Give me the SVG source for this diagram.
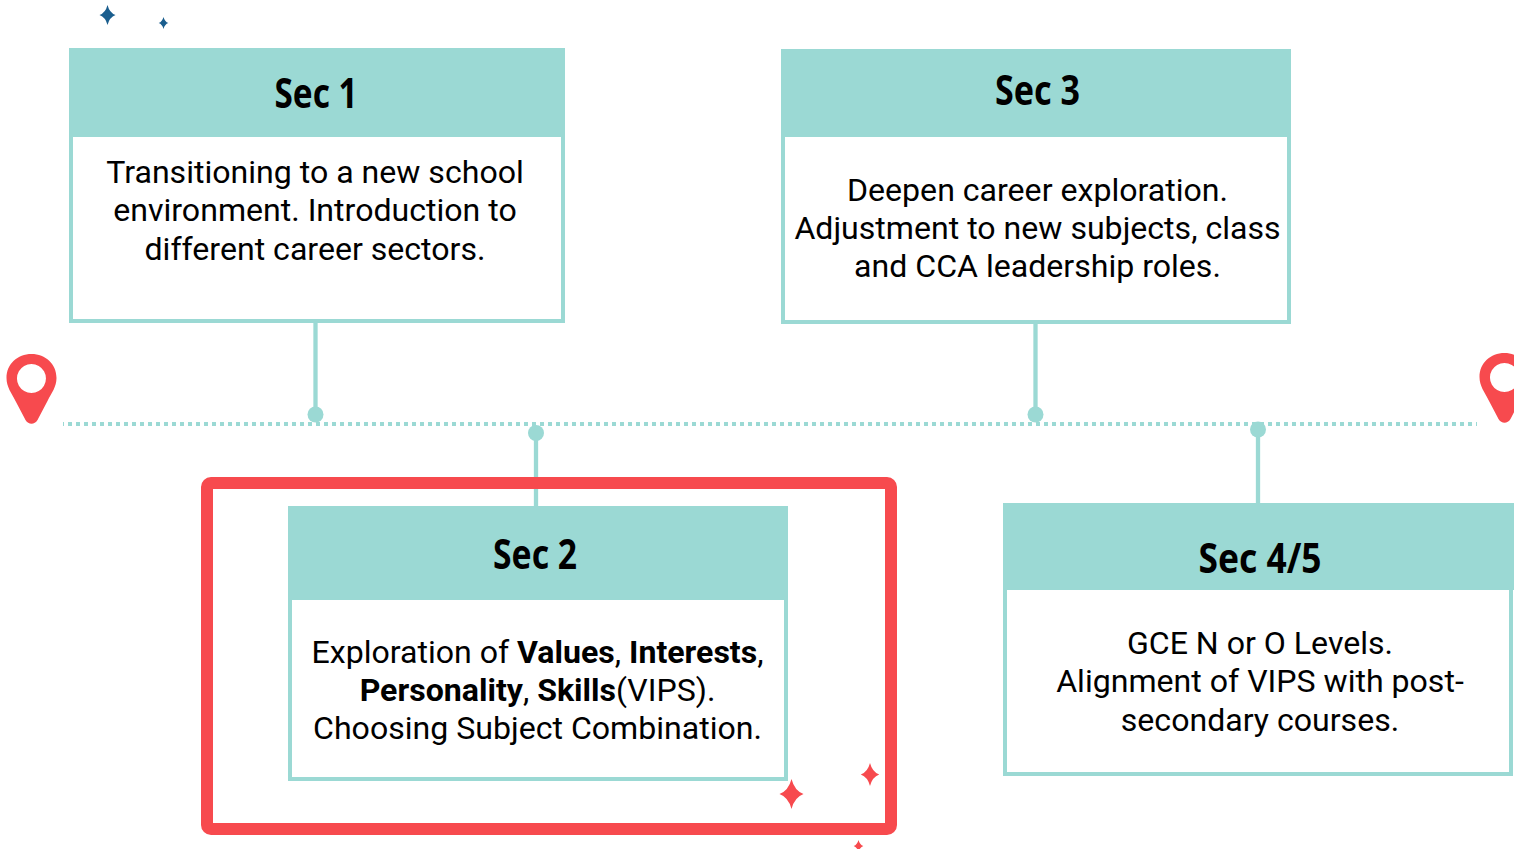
<svg xmlns="http://www.w3.org/2000/svg" width="1514" height="849" viewBox="0 0 1514 849">
<style>
.box{fill:#fff;stroke:#9bd9d4;stroke-width:4}
.head{fill:#9bd9d4}
.conn{stroke:#9bd9d4;stroke-width:4.300;fill:none}
.dot{fill:#9bd9d4}
.h{font-family:"Noto Sans","Open Sans",sans-serif;font-weight:700;font-size:42px;fill:#000;text-anchor:middle}
.t{font-family:Roboto,"Liberation Sans",sans-serif;font-size:32.100px;fill:#000;text-anchor:middle}
.t tspan.b{font-weight:700}
.red{fill:#f74a4e}
.blue{fill:#1b5e8e}
</style>
<defs>
<path id="star" d="M0-1Q.2-.22.8 0Q.2.22 0 1Q-.2.22-.8 0Q-.2-.22 0-1Z"/>
<path id="pin" d="M25 0C11 0 0 10 0 24C0 33 5 39 9 47L19 66C22 71 28 71 31 66L41 47C45 39 50 33 50 24C50 10 39 0 25 0ZM25 10A14.500 14.500 0 1 1 24.900 10Z" fill-rule="evenodd"/>
</defs>
<g id="connectors">
<line x1="63" y1="424" x2="1477" y2="424" stroke="#9bd9d4" stroke-width="4" stroke-dasharray="4 4" stroke-dashoffset="3"/>
<line class="conn" x1="315.500" y1="322" x2="315.500" y2="414"/>
<circle class="dot" cx="315.500" cy="414.500" r="8"/>
<line class="conn" x1="1035.500" y1="322" x2="1035.500" y2="414"/>
<circle class="dot" cx="1035.500" cy="414.500" r="8"/>
<line class="conn" x1="536" y1="432" x2="536" y2="510"/>
<circle class="dot" cx="536" cy="433" r="8"/>
<line class="conn" x1="1258" y1="429" x2="1258" y2="506"/>
<circle class="dot" cx="1258" cy="429.500" r="8"/>
</g>
<g id="pin-left"><use href="#pin" class="red" x="6.500" y="354"/></g>
<g id="pin-right"><use href="#pin" class="red" x="1479.500" y="353"/></g>
<g id="highlight"><rect x="207" y="483" width="684" height="346" rx="4" fill="none" stroke="#f74a4e" stroke-width="12"/></g>
<g id="sec1">
<rect class="box" x="71" y="50" width="492" height="271"/>
<rect class="head" x="69" y="49" width="496" height="88"/>
<text class="h" x="316" y="108" textLength="83" lengthAdjust="spacingAndGlyphs">Sec 1</text>
<text class="t" x="315" y="183">Transitioning to a new school</text>
<text class="t" x="315" y="221">environment. Introduction to</text>
<text class="t" x="315" y="260">different career sectors.</text>
</g>
<g id="sec3">
<rect class="box" x="783" y="51" width="506" height="271"/>
<rect class="head" x="781" y="50" width="510" height="87"/>
<text class="h" x="1037.500" y="105" textLength="85" lengthAdjust="spacingAndGlyphs">Sec 3</text>
<text class="t" x="1037.500" y="201">Deepen career exploration.</text>
<text class="t" x="1037.500" y="239">Adjustment to new subjects, class</text>
<text class="t" x="1037.500" y="277">and CCA leadership roles.</text>
</g>
<g id="sec2">
<rect class="box" x="290" y="508" width="496" height="271"/>
<rect class="head" x="288" y="507" width="500" height="93"/>
<text class="h" x="535" y="569" textLength="84" lengthAdjust="spacingAndGlyphs">Sec 2</text>
<text class="t" x="537.500" y="663">Exploration of <tspan class="b">Values</tspan>, <tspan class="b">Interests</tspan>,</text>
<text class="t" x="537.500" y="701"><tspan class="b">Personality</tspan>, <tspan class="b">Skills</tspan>(VIPS).</text>
<text class="t" x="537.500" y="739">Choosing Subject Combination.</text>
</g>
<g id="sec45">
<rect class="box" x="1005" y="505" width="506" height="269"/>
<rect class="head" x="1003" y="503" width="511" height="87"/>
<text class="h" x="1260" y="573" textLength="123" lengthAdjust="spacingAndGlyphs">Sec 4/5</text>
<text class="t" x="1260" y="654">GCE N or O Levels.</text>
<text class="t" x="1260" y="692">Alignment of VIPS with post-</text>
<text class="t" x="1260" y="731">secondary courses.</text>
</g>
<g id="sparkles">
<use href="#star" class="blue" transform="translate(107.500 15) scale(10)"/>
<use href="#star" class="blue" transform="translate(163.500 23) scale(6)"/>
<use href="#star" class="red" transform="translate(791.500 794) scale(15)"/>
<use href="#star" class="red" transform="translate(870 774.500) scale(11.500)"/>
<use href="#star" class="red" transform="translate(858.500 846) scale(6)"/>
</g>
</svg>
